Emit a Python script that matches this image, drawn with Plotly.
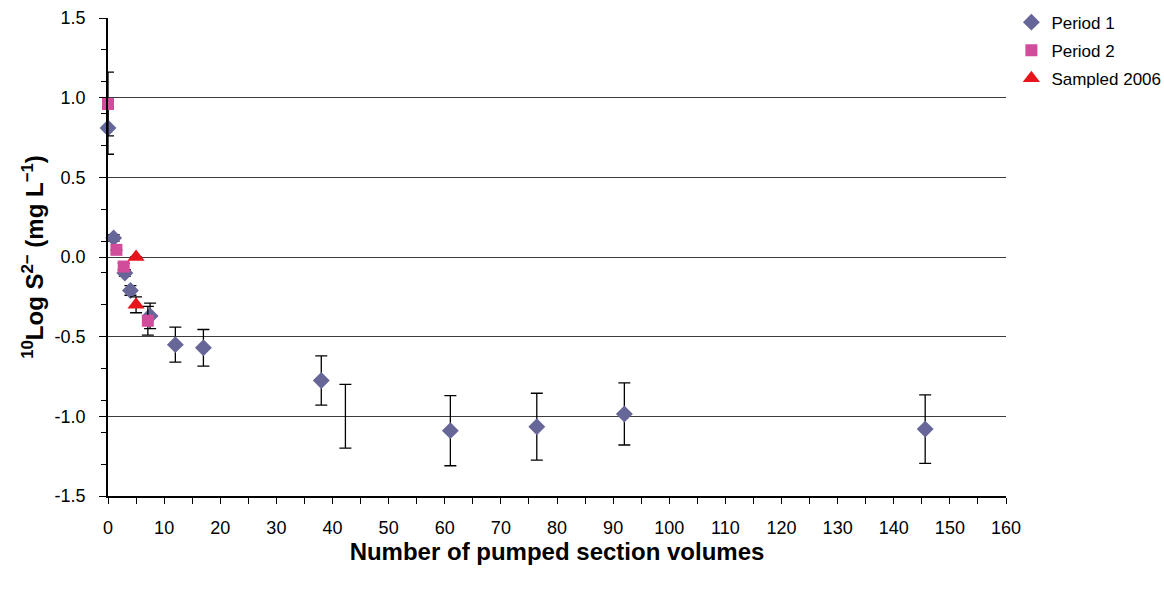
import plotly.graph_objects as go

# Period 1 measurements (pumped section volumes vs 10log sulphide)
p1_x = [0, 1, 3, 4, 7.5, 12, 17, 38, 61, 76.4, 92, 145.6]
p1_y = [0.81, 0.12, -0.10, -0.21, -0.37, -0.55, -0.57, -0.775, -1.09, -1.065, -0.985, -1.08]
p1_err = [0.165, 0.02, 0.02, 0.03, 0.08, 0.11, 0.115, 0.155, 0.22, 0.21, 0.195, 0.215]

# Period 1 point at ~42 volumes: only its error bar is shown
p1b_x = [42.3]
p1b_y = [-1.0]
p1b_err = [0.2]

# Period 2 measurements
p2_x = [0, 1.5, 2.8, 7.1]
p2_y = [0.96, 0.045, -0.06, -0.40]
p2_err = [0.2, 0.0, 0.02, 0.09]

# Sampled in 2006
s_x = [5, 5]
s_y = [0.0, -0.30]
s_err = [0.0, 0.05]

y_ticks = [-1.5, -1.0, -0.5, 0.0, 0.5, 1.0, 1.5]
y_ticklabels = ["-1.5", "-1.0", "-0.5", "0.0", "0.5", "1.0", "1.5"]
x_ticks = list(range(0, 161, 10))

FONT = "Arial, Liberation Sans, Helvetica, sans-serif"

def err(vals):
    return dict(type="data", array=vals, visible=True, color="black",
                thickness=1.3, width=6)

fig = go.Figure()

fig.add_trace(go.Scatter(
    x=p1b_x, y=p1b_y, mode="markers", showlegend=False, hoverinfo="skip",
    marker=dict(size=8, opacity=0, color="#666699"),
    error_y=err(p1b_err), cliponaxis=False,
))
fig.add_trace(go.Scatter(
    x=p1_x, y=p1_y, mode="markers", name="Period 1", legendgroup="a",
    marker=dict(symbol="diamond", size=13, color="#666699",
                line=dict(width=0)),
    error_y=err(p1_err), cliponaxis=False,
))
fig.add_trace(go.Scatter(
    x=p2_x, y=p2_y, mode="markers", name="Period 2", legendgroup="b",
    marker=dict(symbol="square", size=12, color="#D24C9C",
                line=dict(width=0)),
    error_y=err(p2_err), cliponaxis=False,
))
fig.add_trace(go.Scatter(
    x=s_x, y=s_y, mode="markers", name="Sampled 2006", legendgroup="c",
    marker=dict(symbol="triangle-up", size=15, color="#E8141C",
                line=dict(width=0)),
    error_y=err(s_err), cliponaxis=False,
))

fig.update_layout(
    width=1164, height=590,
    margin=dict(l=108, r=158, t=18, b=94, autoexpand=False),
    paper_bgcolor="white", plot_bgcolor="white",
    font=dict(family=FONT, size=18, color="black"),
    legend=dict(x=1.006, y=1.028, xanchor="left", yanchor="top",
                font=dict(size=17), tracegroupgap=3,
                bgcolor="rgba(0,0,0,0)", itemwidth=30),
    showlegend=True,
)

fig.update_xaxes(
    range=[0, 160], tickvals=x_ticks, ticks="outside", ticklen=6,
    tickwidth=1, tickcolor="black", showline=True, linecolor="black",
    linewidth=1.5, showgrid=False, zeroline=False,
    minor=dict(dtick=5, tick0=0, ticks="outside", ticklen=6,
               tickcolor="black", tickwidth=1, showgrid=False),
    tickfont=dict(size=18), ticklabelstandoff=9,
    title=dict(text="<b>Number of pumped section volumes</b>",
               font=dict(size=24), standoff=0),
)

fig.update_yaxes(
    range=[-1.5, 1.5], tickvals=y_ticks, ticktext=y_ticklabels,
    ticks="outside", ticklen=7, tickwidth=1, tickcolor="black",
    showline=True, linecolor="black", linewidth=1.5,
    showgrid=True, gridcolor="#3c3c3c", gridwidth=1, zeroline=False,
    minor=dict(dtick=0.2, tick0=-1.5, ticks="outside", ticklen=5,
               tickcolor="black", tickwidth=1, showgrid=False),
    tickfont=dict(size=18), ticklabelstandoff=10,
    title=dict(text="<b><sup>10</sup>Log S<sup>2\u2212</sup> (mg L<sup>\u22121</sup>)</b>",
               font=dict(size=24), standoff=4),
)

fig.write_html("out.html")
